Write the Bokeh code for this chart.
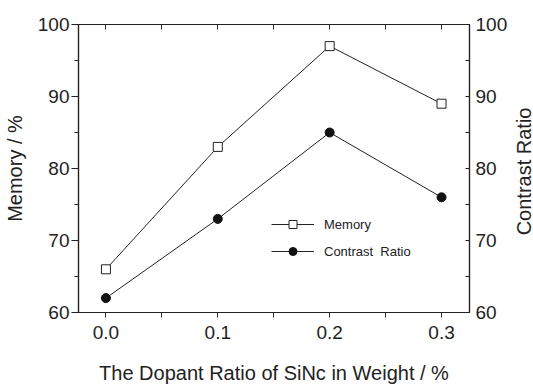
import math
from bokeh.plotting import figure
from bokeh.layouts import row
from bokeh.models import (LinearAxis, Range1d, FixedTicker, Legend, LegendItem, Label)
from bokeh.embed import file_html
from bokeh.resources import INLINE

dopant = [0.0, 0.1, 0.2, 0.3]
memory = [66, 83, 97, 89]
contrast = [62, 73, 85, 76]
x_ticks = [0.0, 0.1, 0.2, 0.3]
x_minor = [0.05, 0.15, 0.25]
y_ticks = [60, 70, 80, 90, 100]
y_minor = [65, 75, 85, 95]

FONT = "Liberation Sans"
TXT = "#222222"

p = figure(width=513, height=390, output_backend="svg", toolbar_location=None,
           x_range=Range1d(-0.0245, 0.325), y_range=Range1d(60, 100),
           min_border_left=69, min_border_right=44, min_border_top=24,
           min_border_bottom=78, background_fill_color="white",
           border_fill_color="white")
p.extra_y_ranges = {"right": Range1d(60, 100)}
p.xgrid.visible = False
p.ygrid.visible = False
p.outline_line_color = "#222222"
p.outline_line_width = 1.2

def style(ax, tin, tout):
    ax.axis_line_color = "#222222"
    ax.axis_line_width = 1.2
    ax.major_tick_line_color = "#222222"
    ax.minor_tick_line_color = "#222222"
    ax.major_tick_in = tin
    ax.major_tick_out = tout
    ax.minor_tick_in = tin
    ax.minor_tick_out = tout
    ax.major_label_text_font = FONT
    ax.major_label_text_font_size = "19px"
    ax.major_label_text_color = TXT
    ax.axis_label_text_font = FONT
    ax.axis_label_text_font_size = "20px"
    ax.axis_label_text_font_style = "normal"
    ax.axis_label_text_color = TXT

xax = p.xaxis[0]
xax.ticker = FixedTicker(ticks=x_ticks, minor_ticks=x_minor)
xax.major_label_overrides = {t: f"{t:.1f}" for t in x_ticks}
xax.axis_label = "The Dopant Ratio of SiNc in Weight / %"
style(xax, 0, 5)
xax.major_label_standoff = 8
xax.axis_label_standoff = 20

yax = p.yaxis[0]
yax.ticker = FixedTicker(ticks=y_ticks, minor_ticks=y_minor)
yax.axis_label = "Memory / %"
style(yax, 0, 7)
yax.minor_tick_out = 4
yax.major_label_standoff = 2
yax.axis_label_standoff = 9

rax = LinearAxis(y_range_name="right")
rax.ticker = FixedTicker(ticks=y_ticks, minor_ticks=y_minor)
style(rax, 4, 0)
rax.major_label_standoff = 6
p.add_layout(rax, "right")

tax = LinearAxis()
tax.ticker = FixedTicker(ticks=x_ticks, minor_ticks=x_minor)
style(tax, 5, 0)
tax.major_label_overrides = {t: "" for t in x_ticks}
tax.major_label_standoff = 0
p.add_layout(tax, "above")

l1 = p.line(dopant, memory, line_color="#222222", line_width=1)
s1 = p.scatter(dopant, memory, marker="square", size=9, fill_color="white",
               line_color="#222222", line_width=1)
l2 = p.line(dopant, contrast, line_color="#222222", line_width=1,
            y_range_name="right")
s2 = p.scatter(dopant, contrast, marker="circle", size=9, fill_color="#111111",
               line_color="#111111", y_range_name="right")

legend = Legend(items=[LegendItem(label="Memory", renderers=[l1, s1]),
                       LegendItem(label="Contrast  Ratio", renderers=[l2, s2])],
                location=(193, 51), glyph_width=43, glyph_height=20,
                spacing=7, padding=0, margin=0, label_standoff=10,
                border_line_color=None, background_fill_alpha=0,
                label_text_font=FONT, label_text_font_size="13px",
                label_text_color=TXT)
p.add_layout(legend, "center")

# right-hand axis title, drawn in a narrow strip so it reads bottom-to-top
q = figure(width=20, height=390, output_backend="svg", toolbar_location=None,
           x_range=Range1d(0, 1), y_range=Range1d(0, 390),
           min_border=0, min_border_left=0, min_border_right=0,
           min_border_top=0, min_border_bottom=0,
           background_fill_color="white", border_fill_color="white")
q.axis.visible = False
q.xgrid.visible = False
q.ygrid.visible = False
q.outline_line_color = None
q.add_layout(Label(x=0.5, y=191, text="Contrast Ratio", angle=math.pi / 2,
                   text_align="center", text_baseline="middle",
                   text_font=FONT, text_font_size="20px", text_color=TXT))

layout = row(p, q)
open("out.html", "w").write(file_html(layout, INLINE))
